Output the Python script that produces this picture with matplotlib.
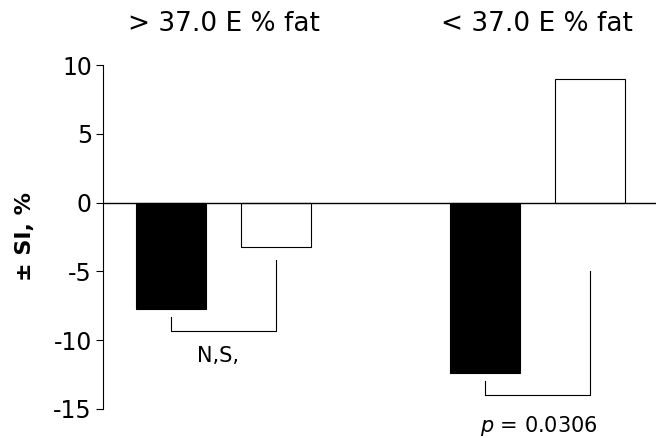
import matplotlib
matplotlib.use("Agg")
import matplotlib.pyplot as plt

plt.rcParams["font.family"] = "DejaVu Sans"
plt.rcParams["axes.unicode_minus"] = False

# bar values (± SI, %) per group: black = first bar, white = second bar
positions = [0, 1, 3, 4]
values = [-7.7, -3.2, -12.4, 9.0]
colors = ["black", "white", "black", "white"]

group_x = [0.5, 3.5]
group_titles = ["> 37.0 E % fat", "< 37.0 E % fat"]

# significance brackets: x points and y points
br1_x = [0, 0, 1, 1]
br1_y = [-8.3, -9.3, -9.3, -4.2]
br2_x = [3, 3, 4, 4]
br2_y = [-13.0, -14.0, -14.0, -5.0]

yticks = [10, 5, 0, -5, -10, -15]

fig = plt.figure(figsize=(6.56, 4.38), dpi=100)
ax = fig.add_axes([103 / 656, 29 / 438, 1 - 103 / 656, 344 / 438])

ax.bar(positions, values, width=0.67, color=colors, edgecolor="black", linewidth=0.8, zorder=2)
ax.axhline(0, color="black", lw=1.0, zorder=3)

ax.plot(br1_x, br1_y, color="black", lw=0.8)
ax.plot(br2_x, br2_y, color="black", lw=0.8)

ax.text(0.45, -11.55, "N,S,", fontsize=15, ha="center", va="baseline")
ax.text(3.52, -16.65, "$\\it{p}$ = 0.0306", fontsize=15, ha="center", va="baseline", clip_on=False)

for gx, t in zip(group_x, group_titles):
    ax.text(gx, 12.45, t, fontsize=19, ha="center", va="baseline", clip_on=False)

ax.set_xlim(-0.655, 4.636)
ax.set_ylim(-15, 10)
ax.set_yticks(yticks)
ax.set_xticks([])
for s in ["top", "right", "bottom"]:
    ax.spines[s].set_visible(False)
ax.spines["left"].set_linewidth(0.8)
ax.tick_params(axis="y", direction="out", length=5, width=0.8, pad=3, labelsize=17)

fig.text(25 / 656, 0.46, "± SI, %", rotation=90, fontsize=16, fontweight="bold",
         ha="center", va="center")

fig.savefig("out.png", dpi=100)
